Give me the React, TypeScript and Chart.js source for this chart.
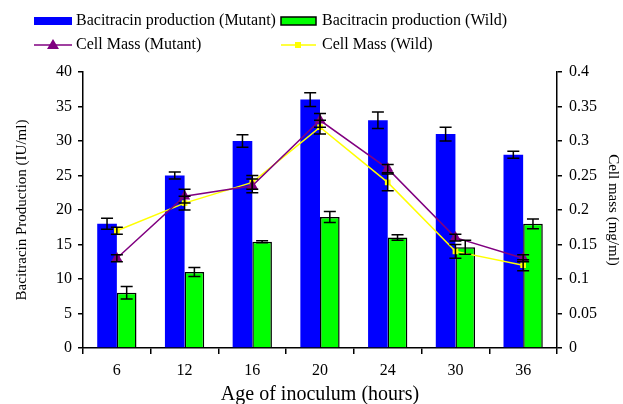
import React, { useEffect, useRef } from "react";
import { Chart, registerables } from "chart.js";

Chart.register(...registerables);

const categories = ["6", "12", "16", "20", "24", "30", "36"];
const mutantProduction = [18, 25, 30, 36, 33, 31, 28];
const mutantProductionErr = [0.8, 0.5, 0.9, 1, 1.2, 1, 0.5];
const wildProduction = [8, 11, 15.4, 19, 16, 14.6, 18];
const wildProductionErr = [0.9, 0.65, 0.15, 0.8, 0.4, 1, 0.7];
const mutantCellMass = [0.13, 0.22, 0.235, 0.33, 0.26, 0.16, 0.13];
const mutantCellMassErr = [0.005, 0.01, 0.01, 0.01, 0.006, 0.005, 0.005];
const wildCellMass = [0.17, 0.21, 0.24, 0.32, 0.24, 0.14, 0.12];
const wildCellMassErr = [0.005, 0.01, 0.01, 0.01, 0.012, 0.01, 0.008];

const FONT = "'Liberation Serif', 'Times New Roman', serif";
const BLUE = "#0000FF";
const GREEN = "#00FF00";
const PURPLE = "#800080";
const YELLOW = "#FFFF00";

const errorBarPlugin = {
  id: "errorBars",
  afterDatasetsDraw(chart: any) {
    const ctx = chart.ctx;
    ctx.save();
    ctx.strokeStyle = "#000";
    ctx.lineWidth = 1.5;
    chart.data.datasets.forEach((ds: any, i: number) => {
      const errs = ds.errors as number[] | undefined;
      if (!errs) return;
      const meta = chart.getDatasetMeta(i);
      const scale = chart.scales[ds.yAxisID];
      meta.data.forEach((el: any, j: number) => {
        const v = ds.data[j];
        const e = errs[j];
        const x = el.x;
        const yTop = scale.getPixelForValue(v + e);
        const yBot = scale.getPixelForValue(v - e);
        const half = 6;
        ctx.beginPath();
        ctx.moveTo(x, yTop);
        ctx.lineTo(x, yBot);
        ctx.moveTo(x - half, yTop);
        ctx.lineTo(x + half, yTop);
        ctx.moveTo(x - half, yBot);
        ctx.lineTo(x + half, yBot);
        ctx.stroke();
      });
    });
    ctx.restore();
  },
};

const legendPlugin = {
  id: "customLegend",
  afterDraw(chart: any) {
    const ctx = chart.ctx;
    ctx.save();
    ctx.font = `16px ${FONT}`;
    ctx.fillStyle = "#000";
    ctx.textBaseline = "middle";
    ctx.textAlign = "left";
    const r1 = 21;
    const r2 = 45;
    // Row 1
    ctx.fillStyle = BLUE;
    ctx.fillRect(34, r1 - 4, 38, 8);
    ctx.fillStyle = "#000";
    ctx.fillText("Bacitracin production (Mutant)", 76, r1);
    ctx.fillStyle = GREEN;
    ctx.fillRect(281, r1 - 4, 35, 8);
    ctx.strokeStyle = "#000";
    ctx.lineWidth = 1.5;
    ctx.strokeRect(281, r1 - 4, 35, 8);
    ctx.fillStyle = "#000";
    ctx.fillText("Bacitracin production (Wild)", 322, r1);
    // Row 2
    ctx.strokeStyle = PURPLE;
    ctx.lineWidth = 1.5;
    ctx.beginPath();
    ctx.moveTo(34, r2);
    ctx.lineTo(72, r2);
    ctx.stroke();
    ctx.fillStyle = PURPLE;
    ctx.beginPath();
    ctx.moveTo(53, r2 - 6);
    ctx.lineTo(59, r2 + 4);
    ctx.lineTo(47, r2 + 4);
    ctx.closePath();
    ctx.fill();
    ctx.fillStyle = "#000";
    ctx.fillText("Cell Mass (Mutant)", 76, r2);
    ctx.strokeStyle = YELLOW;
    ctx.beginPath();
    ctx.moveTo(281, r2);
    ctx.lineTo(316, r2);
    ctx.stroke();
    ctx.fillStyle = YELLOW;
    ctx.fillRect(295, r2 - 3, 6, 6);
    ctx.fillStyle = "#000";
    ctx.fillText("Cell Mass (Wild)", 322, r2);
    ctx.restore();
  },
};

export default function App() {
  const ref = useRef<HTMLCanvasElement>(null);

  useEffect(() => {
    if (!ref.current) return;
    const chart = new Chart(ref.current, {
      type: "bar",
      data: {
        labels: categories,
        datasets: [
          {
            type: "line",
            label: "Cell Mass (Mutant)",
            data: mutantCellMass,
            yAxisID: "y1",
            borderColor: PURPLE,
            backgroundColor: PURPLE,
            borderWidth: 1.5,
            pointStyle: "triangle",
            pointRadius: 6.5,
            pointBorderWidth: 0,
            order: 0,
            errors: mutantCellMassErr,
          } as any,
          {
            type: "line",
            label: "Cell Mass (Wild)",
            data: wildCellMass,
            yAxisID: "y1",
            borderColor: YELLOW,
            backgroundColor: YELLOW,
            borderWidth: 1.5,
            pointStyle: "rect",
            pointRadius: 4,
            pointBorderWidth: 0,
            order: 0,
            errors: wildCellMassErr,
          } as any,
          {
            type: "bar",
            label: "Bacitracin production (Mutant)",
            data: mutantProduction,
            yAxisID: "y",
            backgroundColor: BLUE,
            borderWidth: 0,
            categoryPercentage: 0.58,
            barPercentage: 1,
            order: 1,
            errors: mutantProductionErr,
          } as any,
          {
            type: "bar",
            label: "Bacitracin production (Wild)",
            data: wildProduction,
            yAxisID: "y",
            backgroundColor: GREEN,
            borderColor: "#000",
            borderWidth: 1.5,
            categoryPercentage: 0.58,
            barPercentage: 1,
            order: 1,
            errors: wildProductionErr,
          } as any,
        ],
      },
      options: {
        responsive: false,
        animation: false,
        layout: { padding: { top: 72, left: 0, right: 0, bottom: 0 } },
        plugins: {
          legend: { display: false },
          tooltip: { enabled: false },
        },
        scales: {
          x: {
            grid: {
              offset: true,
              drawOnChartArea: false,
              drawTicks: true,
              tickLength: 6,
              color: "#000",
              lineWidth: 1.5,
            },
            border: { color: "#000", width: 1.5 },
            ticks: { color: "#000", font: { family: FONT, size: 16 }, padding: 7 },
            title: {
              display: true,
              text: "Age of inoculum (hours)",
              color: "#000",
              font: { family: FONT, size: 20 },
              padding: { top: 0, bottom: -3 },
            },
            afterFit: (s: any) => {
              s.height = 56;
            },
          },
          y: {
            position: "left",
            min: 0,
            max: 40,
            ticks: { stepSize: 5, color: "#000", font: { family: FONT, size: 16 }, padding: 6 },
            grid: { drawOnChartArea: false, tickLength: 5, color: "#000", lineWidth: 1.5 },
            border: { color: "#000", width: 1.5 },
            title: {
              display: true,
              text: "Bacitracin Production (IU/ml)",
              color: "#000",
              font: { family: FONT, size: 15 },
              padding: { top: 13, bottom: 0 },
            },
            afterFit: (s: any) => {
              s.width = 83;
            },
          },
          y1: {
            position: "right",
            min: 0,
            max: 0.4,
            ticks: {
              stepSize: 0.05,
              color: "#000",
              font: { family: FONT, size: 16 },
              padding: 7,
              callback: (v: any) => String(+Number(v).toFixed(2)),
            },
            grid: { drawOnChartArea: false, tickLength: 5, color: "#000", lineWidth: 1.5 },
            border: { color: "#000", width: 1.5 },
            title: {
              display: true,
              text: "Cell mass (mg/ml)",
              color: "#000",
              font: { family: FONT, size: 15 },
              padding: { top: 1, bottom: 0 },
            },
            afterFit: (s: any) => {
              s.width = 66;
            },
          },
        },
      } as any,
      plugins: [errorBarPlugin, legendPlugin],
    });
    return () => chart.destroy();
  }, []);

  return (
    <div style={{ position: "absolute", left: 0, top: 0, width: 623, height: 404, background: "#fff" }}>
      <canvas ref={ref} width={623} height={404} />
    </div>
  );
}
